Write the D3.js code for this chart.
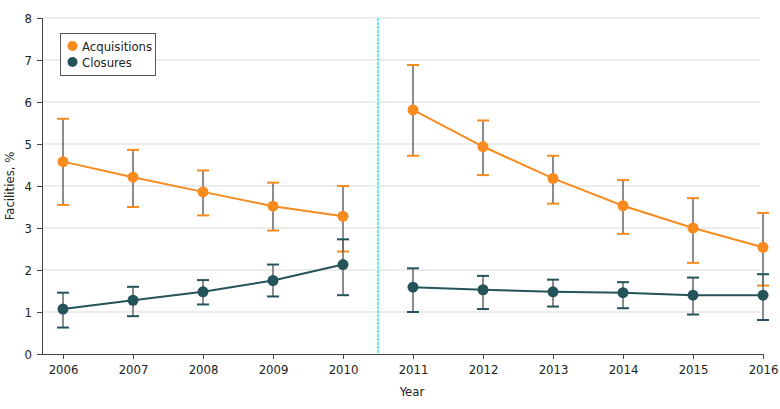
<!DOCTYPE html>
<html><head><meta charset="utf-8">
<script src="https://cdn.jsdelivr.net/npm/d3@7"></script>
<style>body{margin:0;background:#fff}svg{display:block}text{font-family:"Liberation Sans Narrow","DejaVu Sans Condensed",sans-serif;fill:#222}</style>
</head><body><svg id="c" width="780" height="409"></svg>
<script>
const years = [2006,2007,2008,2009,2010,2011,2012,2013,2014,2015,2016];
const acq = [4.58,4.21,3.86,3.52,3.28,5.81,4.94,4.18,3.53,3.00,2.54];
const acqLo = [3.55,3.50,3.30,2.94,2.44,4.72,4.26,3.58,2.86,2.17,1.63];
const acqHi = [5.60,4.86,4.37,4.08,4.00,6.88,5.56,4.72,4.14,3.71,3.36];
const clo = [1.07,1.28,1.48,1.75,2.13,1.59,1.53,1.48,1.46,1.40,1.40];
const cloLo = [0.63,0.90,1.18,1.37,1.40,1.00,1.07,1.13,1.09,0.94,0.81];
const cloHi = [1.46,1.60,1.76,2.13,2.73,2.04,1.86,1.77,1.71,1.82,1.90];
const yTicks = [0,1,2,3,4,5,6,7,8];
const seriesNames = ["Acquisitions","Closures"];
const colors = ["#f78b1e","#24535a"];
const breakYear = 2010.5;

const svg = d3.select("#c");
const x = d3.scaleLinear().domain([2006,2016]).range([63,763]);
const y = d3.scaleLinear().domain([0,8]).range([354,18]);

// grid
svg.append("g").selectAll("line").data(yTicks.filter(d=>d>0)).join("line")
  .attr("x1",42).attr("x2",760).attr("y1",d=>y(d)).attr("y2",d=>y(d))
  .attr("stroke","#d9d9d9").attr("stroke-width",1);

// axes
const ya = svg.append("g").attr("transform","translate(42,0)")
  .call(d3.axisLeft(y).tickValues(yTicks).tickSize(5).tickPadding(5).tickFormat(d3.format("d")));
const xa = svg.append("g").attr("transform","translate(0,354)")
  .call(d3.axisBottom(x).tickValues(years).tickSize(5).tickPadding(6).tickFormat(d3.format("d")));
[ya,xa].forEach(a=>{a.select(".domain").attr("stroke","#444");a.selectAll(".tick line").attr("stroke","#444");
  a.selectAll("text").style("font-size","13px").attr("fill","#222");});
xa.select(".domain").attr("d","M42,0.5H763");

// break line
svg.append("line").attr("x1",x(breakYear)).attr("x2",x(breakYear)).attr("y1",y(8)).attr("y2",y(0))
  .attr("stroke","#5eeaf5").attr("stroke-width",2).attr("stroke-dasharray","3,1");

// labels
svg.append("text").attr("x",x(2011)-1).attr("y",396).attr("text-anchor","middle").style("font-size","13px").text("Year");
svg.append("text").attr("transform","translate(14,"+y(4)+") rotate(-90)").attr("text-anchor","middle").style("font-size","13px").text("Facilities, %");

const sets = [[acq,acqLo,acqHi],[clo,cloLo,cloHi]];
const segs = [[0,1,2,3,4],[5,6,7,8,9,10]];
sets.forEach((s,si)=>{
  const g = svg.append("g");
  const line = d3.line().x(i=>x(years[i])).y(i=>y(s[0][i]));
  segs.forEach(seg=>g.append("path").attr("d",line(seg)).attr("fill","none").attr("stroke",colors[si]).attr("stroke-width",2));
  const idx = d3.range(years.length);
  g.selectAll(".stem").data(idx).join("line").attr("x1",i=>x(years[i])).attr("x2",i=>x(years[i]))
    .attr("y1",i=>y(s[1][i])).attr("y2",i=>y(s[2][i])).attr("stroke","#666").attr("stroke-width",1.5);
  [1,2].forEach(k=>g.selectAll(".cap"+k).data(idx).join("line").attr("x1",i=>x(years[i])-6).attr("x2",i=>x(years[i])+6)
    .attr("y1",i=>y(s[k][i])).attr("y2",i=>y(s[k][i])).attr("stroke",colors[si]).attr("stroke-width",2));
  g.selectAll("circle").data(idx).join("circle").attr("cx",i=>x(years[i])).attr("cy",i=>y(s[0][i])).attr("r",5.5).attr("fill",colors[si]);
});

// legend
const lg = svg.append("g");
lg.append("rect").attr("x",60.5).attr("y",33.5).attr("width",95).attr("height",42).attr("fill","#fff").attr("stroke","#555");
seriesNames.forEach((n,i)=>{
  lg.append("circle").attr("cx",72.5).attr("cy",46+i*16).attr("r",5).attr("fill",colors[i]);
  lg.append("text").attr("x",82).attr("y",51+i*16).style("font-size","13px").text(n);
});
</script></body></html>
